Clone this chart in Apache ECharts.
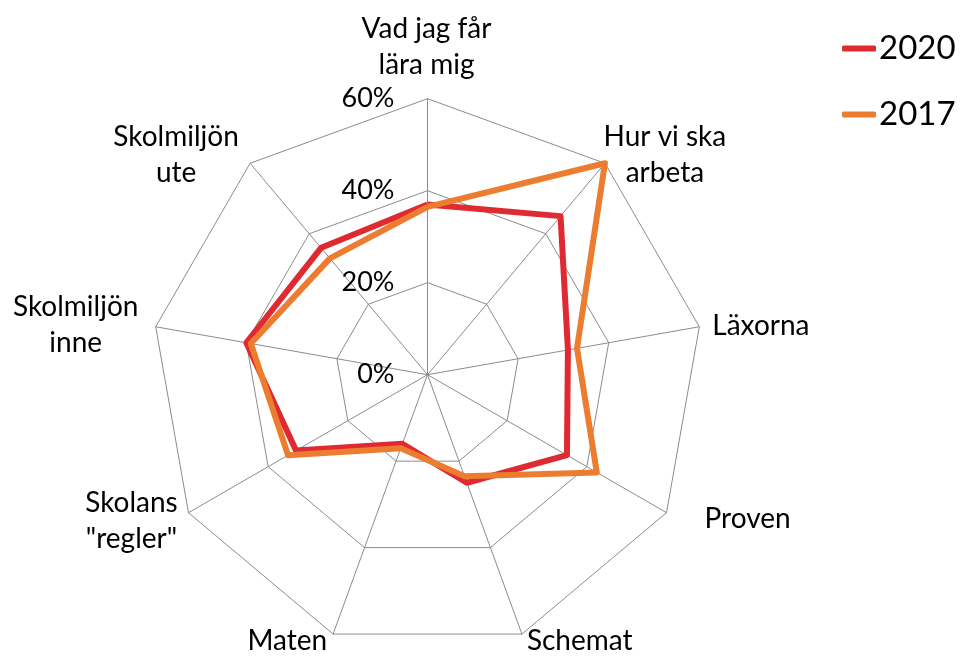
<!DOCTYPE html>
<html>
<head>
<meta charset="utf-8">
<script src="https://cdn.jsdelivr.net/npm/echarts@6/dist/echarts.min.js"></script>
<style>
  html, body { margin: 0; padding: 0; background: #fff; }
  #chart { width: 961px; height: 657px; }
</style>
</head>
<body>
<div id="chart"></div>
<script>
// Survey areas (clockwise from the top)
const categories = [
  'Vad jag får\nlära mig',
  'Hur vi ska\narbeta',
  'Läxorna',
  'Proven',
  'Schemat',
  'Maten',
  'Skolans\n"regler"',
  'Skolmiljön\ninne',
  'Skolmiljön\nute'
];
// Share of answers, percent
const values2020 = [37, 45, 31, 35, 25, 16, 33, 40, 36];
const values2017 = [36.5, 60, 33, 42.5, 23.5, 17, 35, 39, 33];
const seriesNames = ['2020', '2017'];
const tickValues = [0, 20, 40, 60];

const FONT = 'Lato, "Liberation Sans", sans-serif';
const CX = 427.5, CY = 374.7, R = 276;
const MAX = tickValues[tickValues.length - 1];

// Where each category name sits relative to its outer vertex
const nameLayout = [
  { align: 'center', dx: -1, dy: -52 },
  { align: 'center', dx: 60, dy: -8 },
  { align: 'left', dx: 13, dy: -1 },
  { align: 'left', dx: 38, dy: 6 },
  { align: 'left', dx: 5, dy: 7 },
  { align: 'right', dx: -6, dy: 7 },
  { align: 'center', dx: -57, dy: 8 },
  { align: 'center', dx: -80, dy: -2 },
  { align: 'center', dx: -74, dy: -8 }
];

const n = categories.length;
// ECharts lays radar axes out counter-clockwise, so feed them in reverse
// (keeping the first one on top) to read clockwise.
const order = [0].concat(Array.from({ length: n - 1 }, (_, k) => n - 1 - k));
const reorder = arr => order.map(i => arr[i]);

const nameGraphics = categories.map((name, i) => {
  const a = (90 - i * 360 / n) * Math.PI / 180;
  const vx = CX + R * Math.cos(a);
  const vy = CY - R * Math.sin(a);
  const L = nameLayout[i];
  return {
    type: 'text',
    x: vx + L.dx,
    y: vy + L.dy,
    style: {
      text: name,
      align: L.align,
      verticalAlign: 'middle',
      font: '28px ' + FONT,
      lineHeight: 36,
      fill: '#000'
    }
  };
});

const indicators = reorder(categories).map((name, i) => {
  const ind = { name: name, min: 0, max: MAX };
  if (i === 0) {
    ind.axisLabel = {
      show: true,
      margin: 33,
      color: '#000',
      fontSize: 27,
      fontFamily: FONT,
      formatter: '{value}%'
    };
  }
  return ind;
});

const chart = echarts.init(document.getElementById('chart'));
chart.setOption({
  animation: false,
  backgroundColor: '#fff',
  legend: {
    orient: 'vertical',
    left: 837,
    top: 27,
    itemWidth: 34,
    itemHeight: 6,
    itemGap: 33,
    icon: 'roundRect',
    textStyle: { fontSize: 33, fontFamily: FONT, color: '#000', padding: [0, 0, 0, -2] },
    data: seriesNames
  },
  radar: {
    center: [CX, CY],
    radius: R,
    startAngle: 90,
    shape: 'polygon',
    splitNumber: tickValues.length - 1,
    indicator: indicators,
    axisName: { show: false },
    axisLine: { lineStyle: { color: '#8c8c8c', width: 1 } },
    splitLine: { lineStyle: { color: '#8c8c8c', width: 1 } },
    splitArea: { show: false },
    axisLabel: { show: false },
    axisTick: { show: false }
  },
  series: [{
    type: 'radar',
    symbol: 'none',
    data: [
      { name: seriesNames[0], value: reorder(values2020),
        lineStyle: { color: '#DE2A30', width: 6, join: 'round' },
        itemStyle: { color: '#DE2A30' } },
      { name: seriesNames[1], value: reorder(values2017),
        lineStyle: { color: '#EC7D30', width: 6, join: 'round' },
        itemStyle: { color: '#EC7D30' } }
    ]
  }],
  graphic: nameGraphics
});
</script>
</body>
</html>
